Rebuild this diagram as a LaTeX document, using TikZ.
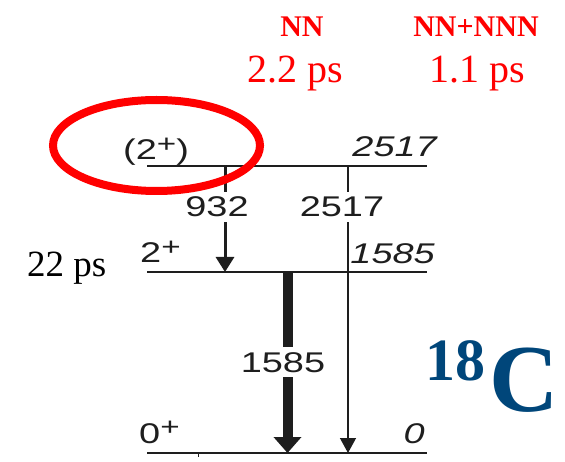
\documentclass[tikz,border=0pt]{standalone}
\usepackage{fontspec}
\setmainfont{Liberation Serif}
\setsansfont{Liberation Sans}
\usepackage{graphicx}
\usetikzlibrary{arrows.meta}
\definecolor{isoblue}{RGB}{0,70,122}
\definecolor{ink}{RGB}{30,30,30}
\newcommand{\sxs}[1]{\scalebox{1.33}[1]{#1}}
\newcommand{\supplus}{\raisebox{7.5pt}{\fontsize{25}{25}\selectfont +}}
\begin{document}
\begin{tikzpicture}[x=1pt,y=-1pt,
  lvl/.style={draw=ink, line width=2.7pt, line cap=butt},
  txt/.style={inner sep=0pt, text=ink, font=\sffamily\fontsize{28.5}{28.5}\selectfont},
  glbl/.style={text=ink, font=\sffamily\fontsize{28.5}{28.5}\selectfont, fill=white, inner xsep=0pt, inner ysep=5pt, anchor=base},
  redb/.style={inner sep=0pt, anchor=base, text=red, font=\bfseries\fontsize{30}{30}\selectfont},
  redr/.style={inner sep=0pt, anchor=base, text=red, font=\fontsize{40}{40}\selectfont},
  ring/.style={draw=red, line width=8pt}
]
\useasboundingbox (0,0) rectangle (565,462);
% level end points
\coordinate (L2a) at (147,166); \coordinate (L2b) at (427,166);
\coordinate (L1a) at (147,272); \coordinate (L1b) at (427,272);
\coordinate (L0a) at (147,453); \coordinate (L0b) at (427,453);
% transition end points
\coordinate (t932) at (225,166);  \coordinate (e932) at (225,272);
\coordinate (t2517) at (348,166); \coordinate (e2517) at (348,453);
\coordinate (t1585) at (287.5,272); \coordinate (e1585) at (287.5,453);
% transitions
\draw[ink, line width=3pt, -{Triangle[width=18pt,length=15pt]}] (t932) -- (e932);
\draw[ink, line width=1.3pt, -{Triangle[width=16pt,length=15pt]}] (t2517) -- (e2517);
\draw[ink, line width=10pt, -{Triangle[width=27pt,length=16pt]}] (t1585) -- (e1585);
\node[glbl] (g932) at (217,217) {\sxs{932}};
\node[glbl] (g2517) at (342,217) {\sxs{2517}};
\node[glbl] (g1585) at (283,372) {\sxs{1585}};
% levels
\draw[lvl] (L2a) -- (L2b);
\draw[lvl] (L1a) -- (L1b);
\draw[lvl] (L0a) -- (L0b);
\draw[ink, line width=1pt] (198,453) -- (198,457);
% level labels
\node[txt, anchor=base west] (s2) at (123,160) {\sxs{(2\supplus)}};
\node[txt, anchor=base east] (E2) at (437,157) {\sxs{\itshape 2517}};
\node[txt, anchor=base west] (s1) at (140,263) {\sxs{2\supplus}};
\node[txt, anchor=base east] (E1) at (435,264) {\sxs{\itshape 1585}};
\node[txt, anchor=base west] (s0) at (139,443) {\sxs{0\supplus}};
\node[txt, anchor=base east] (E0) at (425,443) {\sxs{\itshape 0}};
% lifetime
\node[inner sep=0pt, anchor=base west, font=\fontsize{37}{37}\selectfont] (tau) at (27,277) {22 ps};
% theory
\node[redb] (nn) at (302,37) {NN};
\node[redr] (nnt) at (295,83) {2.2 ps};
\node[redb] (nnn) at (476,37) {NN+NNN};
\node[redr] (nnnt) at (477,83) {1.1 ps};
% isotope
\node[inner sep=0pt, anchor=base west, text=isoblue, font=\bfseries] (iso) at (425,411)
  {\raisebox{31pt}{\fontsize{60}{60}\selectfont 18}\kern4pt\fontsize{96}{96}\selectfont C};
% ring
\draw[ring] (156.5,145.5) ellipse [x radius=103.5, y radius=45.5];
\end{tikzpicture}
\end{document}
